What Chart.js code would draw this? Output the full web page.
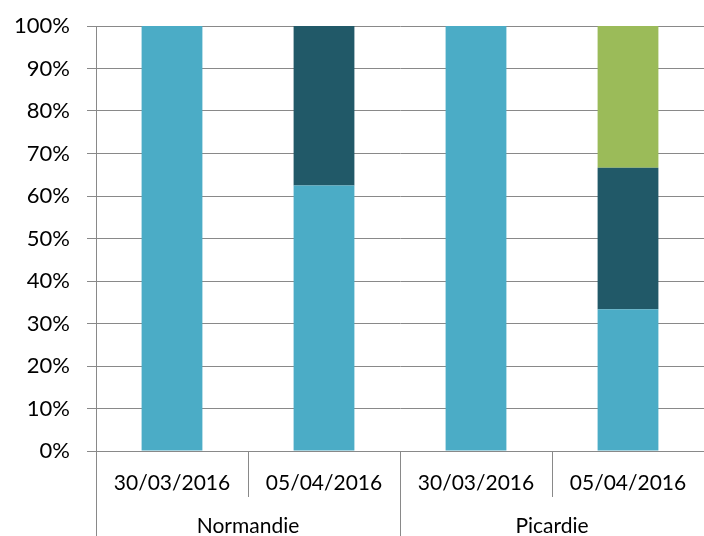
<!DOCTYPE html>
<html>
<head>
<meta charset="utf-8">
<script src="https://cdn.jsdelivr.net/npm/chart.js@4.4.1/dist/chart.umd.min.js"></script>
<style>
  html, body { margin: 0; padding: 0; background: #fff; }
  #wrap { width: 704px; height: 536px; }
</style>
</head>
<body>
<div id="wrap"><canvas id="stackChart"></canvas></div>
<script>
// categories: date per region
const dates = ["30/03/2016", "05/04/2016", "30/03/2016", "05/04/2016"];
const regions = ["Normandie", "Picardie"];

// share of each series (%)
const serie1 = [100, 62.5, 100, 33.33];
const serie2 = [0, 37.5, 0, 33.33];
const serie3 = [0, 0, 0, 33.34];

const gridColor = "#898989";
const labelFont = { family: "Lato", size: 21 };

// vertical separators below the x axis (short between dates, long between regions)
const separators = {
  id: 'separators',
  afterDraw(chart) {
    const { ctx, scales: { x } } = chart;
    const step = x.getPixelForValue(1) - x.getPixelForValue(0);
    const start = x.getPixelForValue(0) - step / 2;
    ctx.save();
    ctx.strokeStyle = gridColor;
    ctx.lineWidth = 1;
    for (let i = 0; i <= dates.length; i++) {
      const px = Math.round(start + i * step) + 0.5;
      const bottom = i % 2 === 0 ? chart.height : x.bottom;
      ctx.beginPath();
      ctx.moveTo(px, x.top);
      ctx.lineTo(px, bottom);
      ctx.stroke();
    }
    ctx.restore();
  }
};

new Chart(document.getElementById('stackChart').getContext('2d'), {
  type: 'bar',
  data: {
    labels: dates,
    datasets: [
      { label: "Série 1", data: serie1, backgroundColor: "#4BACC6" },
      { label: "Série 2", data: serie2, backgroundColor: "#215968" },
      { label: "Série 3", data: serie3, backgroundColor: "#9BBB59" }
    ]
  },
  options: {
    responsive: true,
    maintainAspectRatio: false,
    animation: false,
    categoryPercentage: 1.0,
    barPercentage: 0.4,
    layout: { padding: { top: 26, right: 0, bottom: 0, left: 0 } },
    scales: {
      x: {
        stacked: true,
        grid: { display: false },
        border: { display: false },
        ticks: { font: labelFont, color: "#000", padding: 12, maxRotation: 0 },
        afterFit(scale) { scale.height = 46; }
      },
      x2: {
        type: 'category',
        position: 'bottom',
        labels: regions,
        offset: true,
        grid: { display: false },
        border: { display: false },
        ticks: { font: labelFont, color: "#000", padding: 9, maxRotation: 0 },
        afterFit(scale) { scale.height = 39; }
      },
      y: {
        stacked: true,
        min: 0,
        max: 100,
        ticks: {
          stepSize: 10,
          font: { family: "Lato", size: 22 },
          color: "#000",
          padding: 17,
          callback: v => v + "%"
        },
        grid: { color: gridColor, tickLength: 9 },
        border: { color: gridColor },
        afterFit(scale) {
          scale.width = 96;
          scale.paddingTop = 0;
        }
      }
    },
    plugins: {
      legend: { display: false },
      tooltip: { enabled: false }
    }
  },
  plugins: [separators]
});
</script>
</body>
</html>
